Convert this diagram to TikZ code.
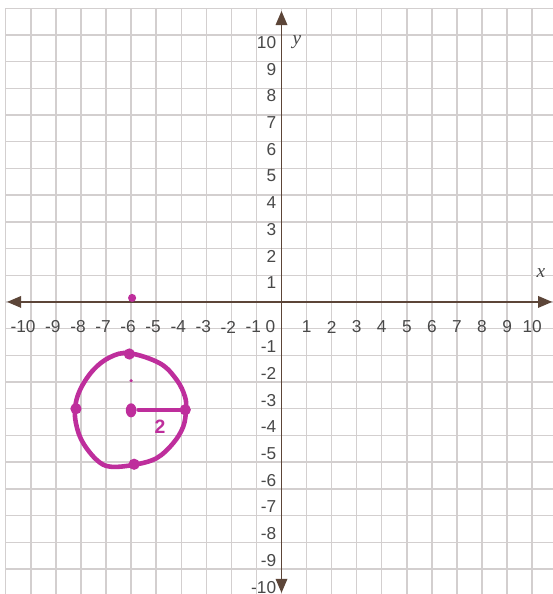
\documentclass[tikz,border=0pt]{standalone}
\usepackage{fontspec}
\setmainfont{Liberation Sans}
\newfontfamily\axisfont{Liberation Serif}
\usetikzlibrary{arrows.meta}
\definecolor{gridgray}{HTML}{D3CFCF}
\definecolor{axisbrown}{HTML}{5C4538}
\definecolor{labelgray}{HTML}{484848}
\definecolor{penpink}{HTML}{BE2E9C}
\tikzset{
  gridline/.style={gridgray, line width=0.8pt},
  axisline/.style={axisbrown, line width=1.1pt,
    {Triangle[length=8pt,width=6.5pt]}-{Triangle[length=8pt,width=6.5pt]}},
  ticklabel/.style={labelgray, inner sep=0pt, font=\fontsize{9.8}{10}\selectfont},
  axisname/.style={labelgray, inner sep=0pt, font=\axisfont\itshape\fontsize{11}{12}\selectfont},
  pen/.style={penpink, line width=2.6pt, line cap=round, line join=round},
  pendot/.style={fill=penpink},
}
\begin{document}
\begin{tikzpicture}[x=0.5cm, y=0.5325cm]
  \useasboundingbox [fill=white] (-11.23,-10.94) rectangle (10.83,11.31);
  % grid paper
  \foreach \i in {-11,...,10}{
    \draw [gridline] (\i,-10.94) -- (\i,11);
  }
  \foreach \j in {-10,...,11}{
    \draw [gridline] (-11,\j) -- (10.83,\j);
  }
  % axes
  \coordinate (xleft) at (-10.95,0);
  \coordinate (xright) at (10.8,0);
  \coordinate (ybottom) at (0,-10.9);
  \coordinate (ytop) at (0,10.9);
  \draw [axisline] (xleft) -- (xright);
  \draw [axisline] (ybottom) -- (ytop);
  \node [axisname] (xname) at (10.35,1.1) {x};
  \node [axisname] (yname) at (0.62,9.74) {y};
  % numbers on the axes
  \foreach \i in {1,...,10}{
    \node [ticklabel] (xl\i) at (\i,-0.94) {\i};
  }
  \foreach \i in {-10,...,-1}{
    \node [ticklabel, anchor=east] (xl\i) at (\i + 0.2,-0.94) {\i};
  }
  \node [ticklabel] (origin) at (-0.44,-0.94) {0};
  \foreach \j in {1,...,10}{
    \node [ticklabel, anchor=east] (yl\j) at (-0.2,\j - 0.28) {\j};
  }
  \foreach \j in {-10,...,-1}{
    \node [ticklabel, anchor=east] (yl\j) at (-0.2,\j - 0.68) {\j};
  }
  % hand drawn circle
  \draw [pen] plot [smooth cycle, tension=0.6] coordinates {
    (-6.07,-1.92) (-4.85,-2.30) (-4.18,-2.92) (-3.85,-3.55) (-3.81,-4.04)
    (-3.92,-4.67) (-4.32,-5.29) (-4.98,-5.85) (-5.88,-6.10) (-6.84,-6.17)
    (-7.37,-5.92) (-7.91,-5.29) (-8.17,-4.67) (-8.24,-4.01) (-8.04,-3.30)
    (-7.51,-2.55) (-6.84,-2.07)};
  \coordinate (ctr) at (-6,-4.06);
  \coordinate (rim) at (-3.84,-4.04);
  \coordinate (radstart) at (-5.7,-4.04);
  \draw [pen] (radstart) -- (rim);
  \fill [pendot] (ctr) ellipse [x radius=3pt, y radius=4pt];
  \foreach \p in {(-6.07,-1.95), (-8.2,-4.0), (-3.84,-4.04), (-5.88,-6.08)}{
    \fill [pendot] \p circle [radius=3.2pt];
  }
  \fill [pendot] (-6,-2.95) circle [radius=1pt];
  \fill [pendot] (-5.96,0.15) circle [radius=2.3pt];
  \node [penpink, font=\bfseries\fontsize{11}{12}\selectfont] (rlabel) at (-4.85,-4.67) {2};
\end{tikzpicture}
\end{document}
